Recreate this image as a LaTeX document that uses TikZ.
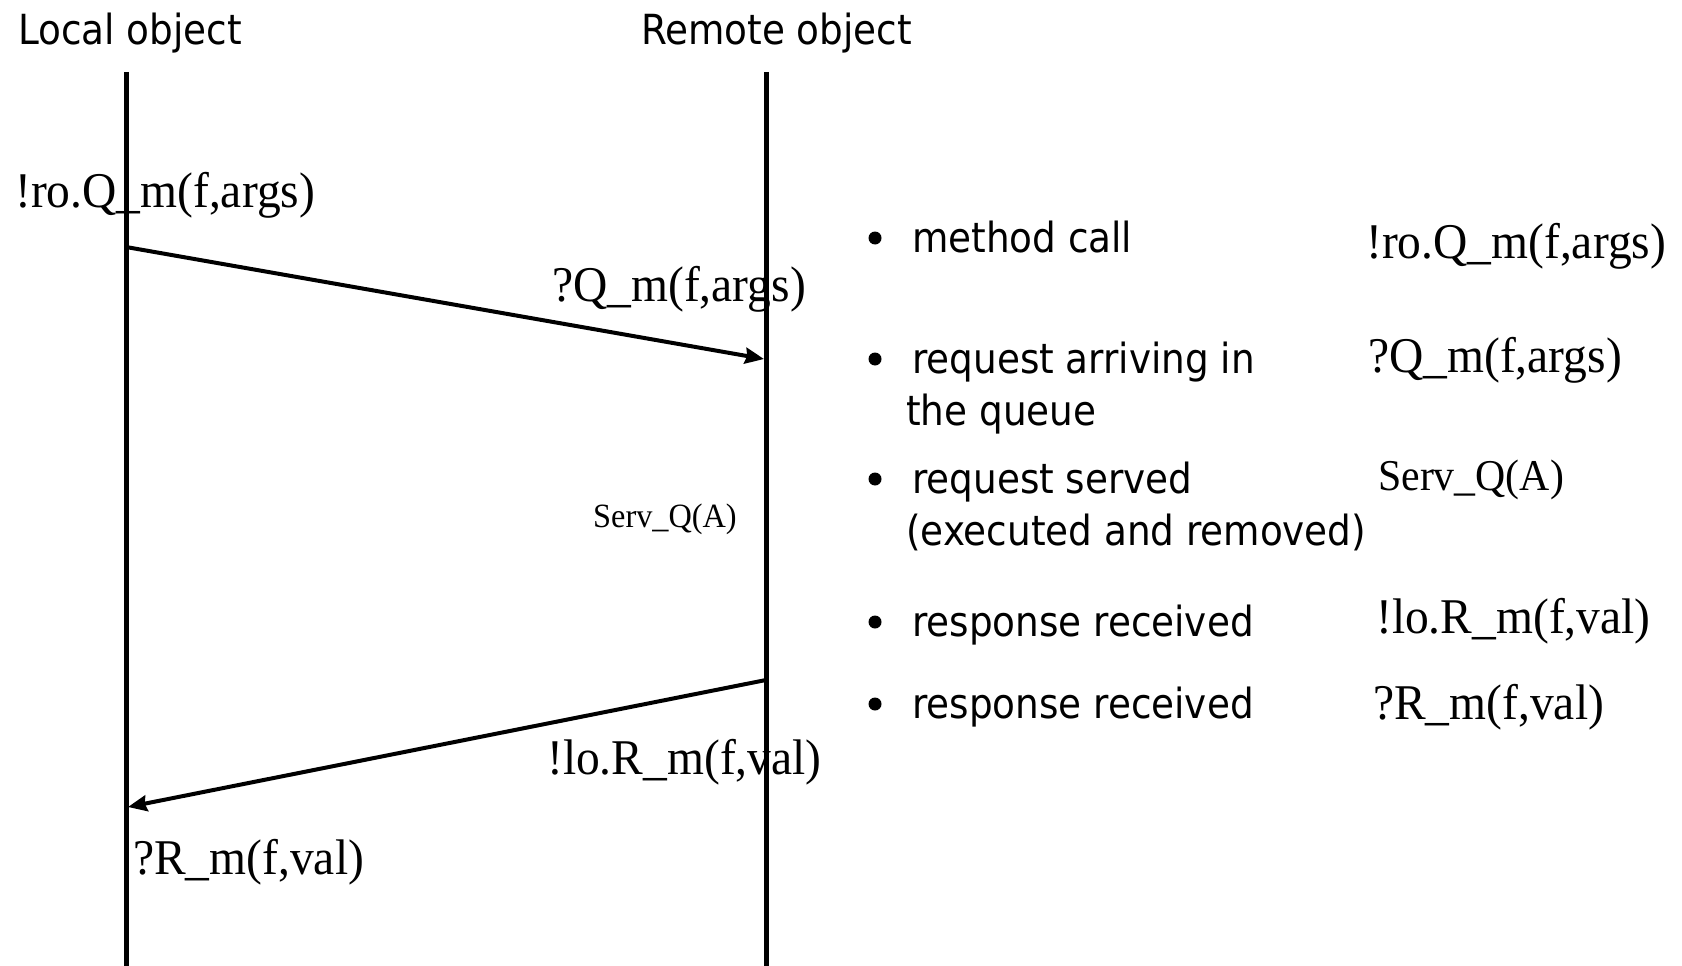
\documentclass[tikz,border=0pt]{standalone}
\usepackage{fontspec}
\setmainfont{Liberation Serif}
\newfontfamily\labelfont[FakeStretch=0.95]{Liberation Serif}
\newfontfamily\notefont{DejaVu Sans Condensed}
\usetikzlibrary{arrows.meta}

\begin{document}
\begin{tikzpicture}[x=1pt,y=-1pt,
  lifeline/.style={line width=5pt},
  message/.style={line width=4pt,-{Stealth[length=19pt,width=16pt,inset=2pt]}},
  head/.style={font=\notefont\fontsize{41.5}{50}\selectfont, anchor=base west, inner sep=0pt},
  note/.style={head},
  event/.style={font=\labelfont\fontsize{50}{60}\selectfont, anchor=base west, inner sep=0pt},
  smallevent/.style={event, font=\labelfont\fontsize{34}{40}\selectfont},
  midevent/.style={event, font=\labelfont\fontsize{44}{52}\selectfont},
  dot/.style={circle, fill, draw=none, inner sep=0pt, minimum size=13pt}
]
\useasboundingbox (0,0) rectangle (1682,966);

% object headers
\node[head] (local)  at (18,45)  {Local object};
\node[head] (remote) at (641,45) {Remote object};

% lifelines
\coordinate (ltop) at (126,72);
\coordinate (lbot) at (126,966);
\coordinate (rtop) at (766,72);
\coordinate (rbot) at (766,966);
\draw[lifeline] (ltop) -- (lbot);
\draw[lifeline] (rtop) -- (rbot);

% messages
\coordinate (callsend) at (126,247);
\coordinate (callrecv) at (764,359);
\coordinate (respsend) at (766,680);
\coordinate (resprecv) at (128,807);
\draw[message] (callsend) -- (callrecv);
\draw[message] (respsend) -- (resprecv);

% event labels on the time lines
\node[event] (callout)  at (15,207)  {!ro.Q\_m(f,args)};
\node[event] (callin)   at (552,301) {?Q\_m(f,args)};
\node[smallevent] (serve) at (593,527) {Serv\_Q(A)};
\node[event] (respout)  at (547,774) {!lo.R\_m(f,val)};
\node[event] (respin)   at (133,874) {?R\_m(f,val)};

% legend: bullets
\node[dot] (b1) at (875,238) {};
\node[dot] (b2) at (875,359) {};
\node[dot] (b3) at (875,479) {};
\node[dot] (b4) at (875,622) {};
\node[dot] (b5) at (875,704) {};

% legend: descriptions
\node[note] (n1)  at (912,252) {method call};
\node[note] (n2)  at (912,373) {request arriving in};
\node[note] (n2b) at (906,425) {the queue};
\node[note] (n3)  at (912,493) {request served};
\node[note] (n3b) at (906,545) {(executed and removed)};
\node[note] (n4)  at (912,636) {response received};
\node[note] (n5)  at (912,718) {response received};

% legend: matching events
\node[event] (e1) at (1366,258) {!ro.Q\_m(f,args)};
\node[event] (e2) at (1368,372) {?Q\_m(f,args)};
\node[midevent] (e3) at (1378,490) {Serv\_Q(A)};
\node[event] (e4) at (1376,633) {!lo.R\_m(f,val)};
\node[event] (e5) at (1373,719) {?R\_m(f,val)};
\end{tikzpicture}
\end{document}
